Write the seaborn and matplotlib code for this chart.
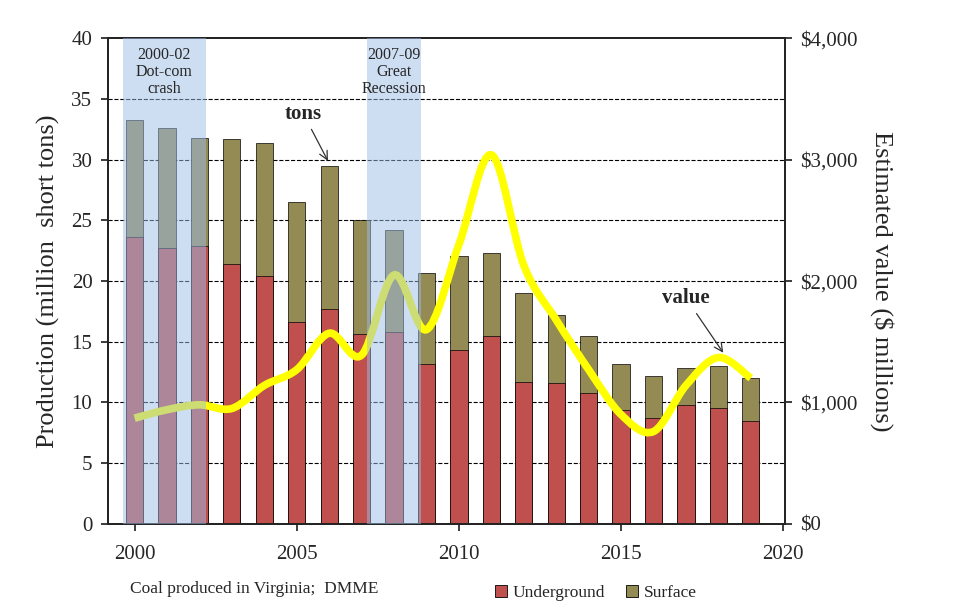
import numpy as np
import pandas as pd
import matplotlib
matplotlib.use("Agg")
import matplotlib.pyplot as plt
import seaborn as sns
from matplotlib.path import Path
from matplotlib.patches import PathPatch, Patch

years = list(range(2000, 2020))
total = [33.3, 32.6, 31.8, 31.7, 31.4, 26.5, 29.5, 25.0, 24.2, 20.7,
         22.1, 22.3, 19.0, 17.2, 15.5, 13.2, 12.2, 12.8, 13.0, 12.0]
underground = [23.6, 22.7, 22.9, 21.4, 20.4, 16.6, 17.7, 15.6, 15.8, 13.2,
               14.3, 15.5, 11.7, 11.6, 10.8, 9.4, 8.7, 9.8, 9.5, 8.5]
value = [870, 940, 980, 950, 1140, 1270, 1570, 1390, 2050, 1600,
         2300, 3040, 2130, 1680, 1270, 900, 760, 1140, 1370, 1200]

df = pd.DataFrame({"year": years, "total": total, "underground": underground})

sns.set_theme(style="white")
plt.rcParams['font.family'] = ['Liberation Serif', 'DejaVu Serif']

fig, ax = plt.subplots(figsize=(9.79, 6.09), dpi=100)
fig.subplots_adjust(left=0.11, right=0.802, top=0.937, bottom=0.14)

sns.barplot(data=df, x="year", y="total", native_scale=True, width=0.53,
            color="#948a54", saturation=1, edgecolor="black", linewidth=0.5, ax=ax)
sns.barplot(data=df, x="year", y="underground", native_scale=True, width=0.53,
            color="#c0504d", saturation=1, edgecolor="black", linewidth=0.5, ax=ax)

ax.set_xlim(1999.17, 2020.06)
ax.set_ylim(0, 40)
ax.set_yticks(range(0, 41, 5))
ax.set_xticks(range(2000, 2021, 5))
ax.set_xlabel("")
ax.set_ylabel("Production (million  short tons)", fontsize=19, labelpad=8)
for y in range(5, 40, 5):
    ax.axhline(y, color="black", ls="--", lw=0.8, zorder=0.5)
ax.tick_params(labelsize=15, direction="out", length=5, pad=6, left=True, bottom=True)
ax.tick_params(axis="x", pad=10)
for s in ax.spines.values():
    s.set_color("black")

ax2 = ax.twinx()
ax2.set_ylim(0, 4000)
ax2.set_yticks(range(0, 4001, 1000))
ax2.set_yticklabels([f"${v:,}" for v in range(0, 4001, 1000)])
ax2.tick_params(labelsize=15, direction="out", length=5, pad=6, right=True)
ax2.set_ylabel("Estimated value ($ millions)", fontsize=19, rotation=270, labelpad=26)

# smooth (Excel-style) line via Catmull-Rom bezier segments
pts = np.column_stack([years, value]).astype(float)
verts = [pts[0]]
codes = [Path.MOVETO]
for i in range(len(pts) - 1):
    p0 = pts[max(i - 1, 0)]
    p1, p2 = pts[i], pts[i + 1]
    p3 = pts[min(i + 2, len(pts) - 1)]
    verts += [p1 + (p2 - p0) / 6, p2 - (p3 - p1) / 6, p2]
    codes += [Path.CURVE4] * 3
ax2.add_patch(PathPatch(Path(verts, codes), facecolor="none",
                        edgecolor="#ffff00", lw=5.5, zorder=3))

# recession shading on top
for x0, x1 in [(1999.63, 2002.2), (2007.16, 2008.83)]:
    ax2.axvspan(x0, x1, color="#9dbde6", alpha=0.5, lw=0, zorder=4)
ax2.text(2000.9, 39.3 * 100, "2000-02\nDot-com\ncrash", ha="center", va="top",
         fontsize=11.5, linespacing=1.1, zorder=5)
ax2.text(2007.99, 39.3 * 100, "2007-09\nGreat\nRecession", ha="center", va="top",
         fontsize=11.5, linespacing=1.1, zorder=5)

ax2.annotate("tons", xy=(2006, 2970), xytext=(2005.2, 3380), fontsize=15,
             fontweight="bold", ha="center", va="center",
             arrowprops=dict(arrowstyle="->", color="#333333", lw=0.9))
ax2.annotate("value", xy=(2018.2, 1390), xytext=(2017, 1860), fontsize=15,
             fontweight="bold", ha="center", va="center",
             arrowprops=dict(arrowstyle="->", color="#333333", lw=0.9))

fig.text(0.133, 0.027, "Coal produced in Virginia;  DMME", fontsize=12.5)
fig.legend(handles=[Patch(facecolor="#c0504d", edgecolor="black", lw=0.6, label="Underground"),
                    Patch(facecolor="#948a54", edgecolor="black", lw=0.6, label="Surface")],
           loc="lower left", bbox_to_anchor=(0.49, -0.012), ncol=2, frameon=False,
           fontsize=12.5, handlelength=0.7, handleheight=0.7, columnspacing=1.2,
           handletextpad=0.3)

fig.savefig("out.png", dpi=100, facecolor="white")
